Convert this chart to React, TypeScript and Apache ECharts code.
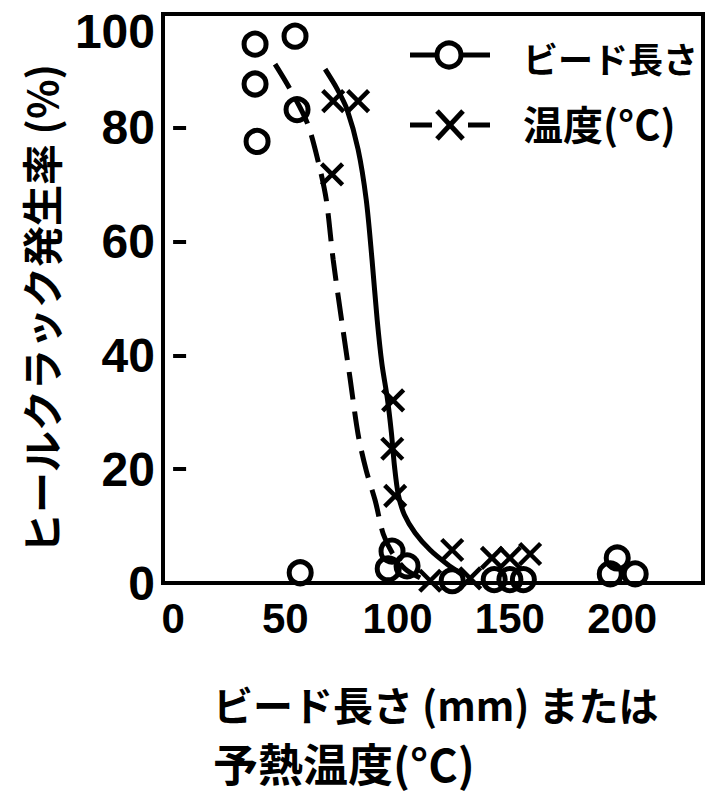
import React, { useEffect, useRef } from "react";
import * as echarts from "echarts";

// ---- data ----
// bead length (mm) vs crack rate (%)  — circles
const beadPoints: [number, number][] = [
  [36.5, 94.7], [54.3, 96.1], [36.5, 87.7], [55.2, 83.2], [37.4, 77.6],
  [56.6, 1.8], [97.5, 5.6], [95.8, 2.5], [104.2, 3.0], [124.3, 0.4],
  [143.0, 0.6], [150.0, 0.6], [156.0, 0.6],
  [197.8, 4.4], [194.7, 1.6], [205.8, 1.6],
];
// preheat temperature (°C) vs crack rate (%) — crosses
const tempPoints: [number, number][] = [
  [71.3, 84.7], [82.4, 84.7], [70.8, 71.8],
  [98.0, 32.1], [97.6, 23.6], [98.9, 15.3],
  [124.3, 5.8], [114.5, 0.4], [132.3, 0.8],
  [142.0, 4.4], [150.0, 4.4], [159.0, 5.1],
];
// trend curves
const beadCurve: [number, number][] = [
  [45.4, 91.2], [52.1, 86.8], [59.7, 80.9], [64.6, 74.1], [68.2, 67.4],
  [71.3, 56.8], [75.7, 44.4], [78.8, 36.0], [82.4, 26.1], [86.0, 19.8],
  [90.0, 14.5], [93.6, 8.6], [97.6, 5.3], [103.3, 2.5], [110.0, 0.9],
];
const tempCurve: [number, number][] = [
  [67.7, 90.3], [73.1, 86.8], [77.5, 83.2], [82.4, 76.2], [86.0, 67.4],
  [88.6, 56.8], [90.9, 46.2], [93.0, 38.5], [95.4, 32.5], [97.2, 26.5],
  [98.6, 20.5], [100.3, 15.5], [103.0, 12.0], [107.8, 8.8], [114.5, 5.8],
  [122.1, 3.3], [128.0, 1.7],
];
const xTickValues = [0, 50, 100, 150, 200];
const yTickValues = [0, 20, 40, 60, 80, 100];

const seriesNames = ["ビード長さ", "温度(°C)"];
const yTitle = "ヒールクラック発生率 (%)";
const xTitle1 = "ビード長さ (mm) または";
const xTitle2 = "予熱温度(°C)";

const JP = "'Noto Sans CJK JP', 'Noto Sans', sans-serif";
const NUM = "'Liberation Sans', Arial, sans-serif";
const CROSS = "path://M0,0L10,10M10,0L0,10";

export default function App() {
  const ref = useRef<HTMLDivElement>(null);
  useEffect(() => {
    if (!ref.current) return;
    const chart = echarts.init(ref.current, null, { renderer: "svg" });
    const option: any = {
      animation: false,
      backgroundColor: "#fff",
      grid: {
        left: 163,
        right: 9,
        top: 14,
        bottom: 210,
        show: true,
        borderColor: "#000",
        borderWidth: 4,
        backgroundColor: "transparent",
      },
      xAxis: {
        type: "value",
        min: -4.5,
        max: 236,
        axisLine: { show: false },
        axisTick: { show: false },
        splitLine: { show: false },
        axisLabel: {
          customValues: xTickValues,
          color: "#000",
          fontSize: 42,
          fontWeight: "bold",
          fontFamily: NUM,
          margin: 14,
        },
      },
      yAxis: {
        type: "value",
        min: 0,
        max: 100,
        interval: 20,
        axisLine: { show: false },
        splitLine: { show: false },
        axisTick: {
          show: true,
          inside: true,
          length: 13,
          lineStyle: { color: "#000", width: 4 },
        },
        axisLabel: {
          color: "#000",
          fontSize: 48,
          lineHeight: 34,
          fontWeight: "bold",
          fontFamily: NUM,
          margin: 8,
          verticalAlignMaxLabel: "top",
          formatter: (v: number) => (yTickValues.includes(v) ? String(v) : ""),
        },
      },
      series: [
        {
          name: "beadCurve",
          type: "line",
          data: beadCurve,
          showSymbol: false,
          smooth: 0.3,
          lineStyle: { color: "#000", width: 5, type: [28, 12] },
          silent: true,
        },
        {
          name: "tempCurve",
          type: "line",
          data: tempCurve,
          showSymbol: false,
          smooth: 0.3,
          lineStyle: { color: "#000", width: 5 },
          silent: true,
        },
        {
          name: seriesNames[0],
          type: "scatter",
          data: beadPoints,
          symbol: "circle",
          symbolSize: 22,
          itemStyle: { color: "transparent", borderColor: "#000", borderWidth: 5, opacity: 1 },
        },
        {
          name: seriesNames[1],
          type: "scatter",
          data: tempPoints,
          symbol: CROSS,
          symbolSize: 21,
          itemStyle: { color: "transparent", borderColor: "#000", borderWidth: 4.5, opacity: 1 },
        },
      ],
      graphic: [
        // legend row 1
        { type: "line", shape: { x1: 410, y1: 55, x2: 436, y2: 55 }, style: { stroke: "#000", lineWidth: 5 } },
        { type: "circle", shape: { cx: 449, cy: 55, r: 12 }, style: { fill: "none", stroke: "#000", lineWidth: 5 } },
        { type: "line", shape: { x1: 462, y1: 55, x2: 490, y2: 55 }, style: { stroke: "#000", lineWidth: 5 } },
        {
          type: "text", x: 523, y: 57,
          style: { text: seriesNames[0], fill: "#000", fontSize: 35, fontWeight: "bold", fontFamily: JP, verticalAlign: "middle" },
        },
        // legend row 2
        { type: "line", shape: { x1: 410, y1: 125, x2: 432, y2: 125 }, style: { stroke: "#000", lineWidth: 5 } },
        { type: "line", shape: { x1: 437, y1: 111, x2: 463, y2: 139 }, style: { stroke: "#000", lineWidth: 5 } },
        { type: "line", shape: { x1: 463, y1: 111, x2: 437, y2: 139 }, style: { stroke: "#000", lineWidth: 5 } },
        { type: "line", shape: { x1: 468, y1: 125, x2: 490, y2: 125 }, style: { stroke: "#000", lineWidth: 5 } },
        {
          type: "text", x: 523, y: 123,
          style: { text: seriesNames[1], fill: "#000", fontSize: 40, fontWeight: "bold", fontFamily: JP, verticalAlign: "middle" },
        },
        // y title
        {
          type: "text", x: 40, y: 309, rotation: Math.PI / 2,
          style: { text: yTitle, fill: "#000", fontSize: 41, fontWeight: "bold", fontFamily: JP, align: "center", verticalAlign: "middle" },
        },
        // x title
        {
          type: "text", x: 213, y: 704,
          style: { text: xTitle1, fill: "#000", fontSize: 40, fontWeight: "bold", fontFamily: JP, verticalAlign: "middle" },
        },
        {
          type: "text", x: 213, y: 762,
          style: { text: xTitle2, fill: "#000", fontSize: 45, fontWeight: "bold", fontFamily: JP, verticalAlign: "middle" },
        },
      ],
    };
    chart.setOption(option);
    return () => chart.dispose();
  }, []);
  return <div ref={ref} style={{ width: 712, height: 793, position: "absolute", left: 0, top: 0 }} />;
}
